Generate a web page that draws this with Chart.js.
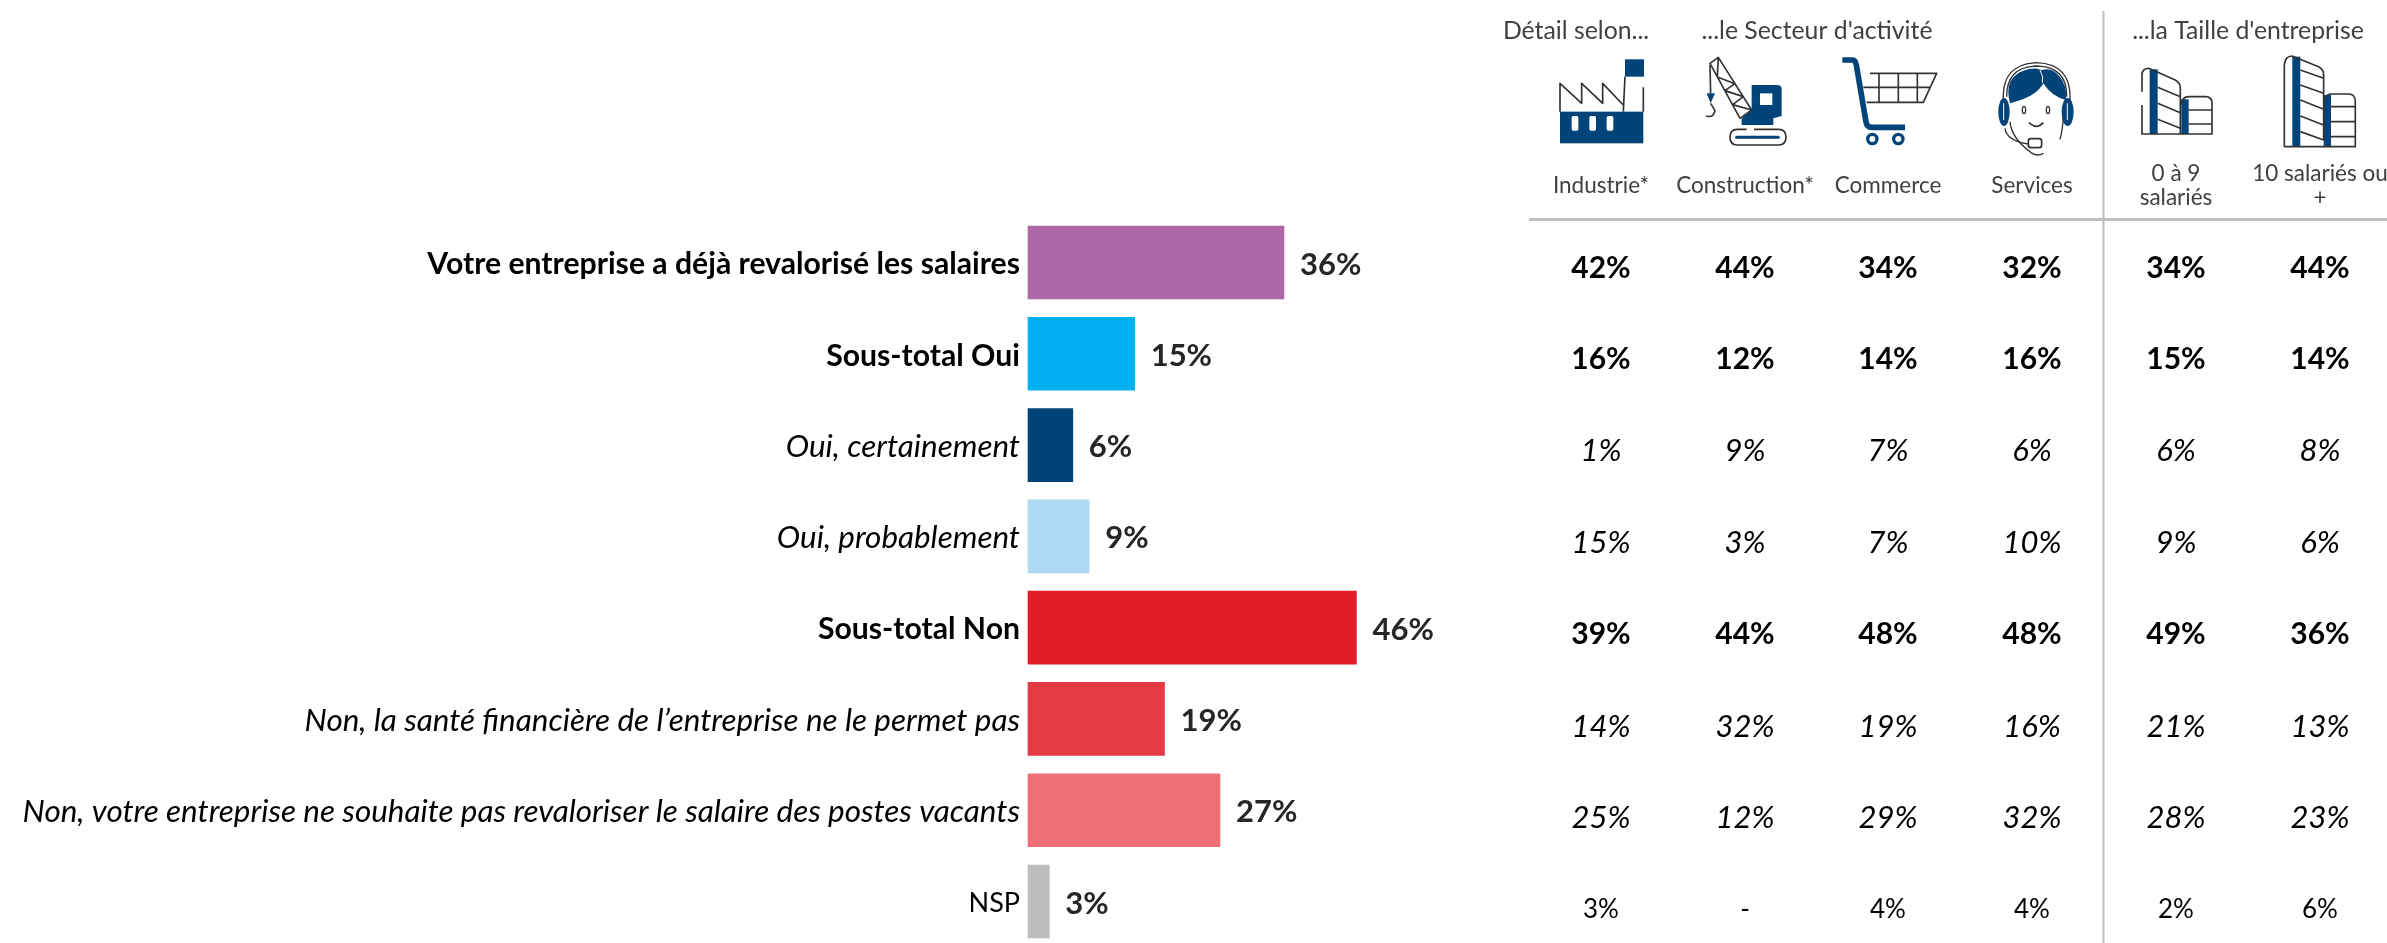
<!DOCTYPE html>
<html lang="fr"><head><meta charset="utf-8">
<style>html,body{margin:0;padding:0;background:#fff;overflow:hidden}
#wrap{position:relative;width:2387px;height:943px}
canvas{position:absolute;left:0;top:0}
svg{position:absolute;left:0;top:0;pointer-events:none}</style>
<script src="https://cdn.jsdelivr.net/npm/chart.js@4"></script>
</head><body>
<div id="wrap"><canvas id="c" width="2387" height="943"></canvas>
<svg width="2387" height="943" viewBox="0 0 2387 943" fill="none" stroke-linejoin="round">
<!-- factory + crane -->
<g transform="translate(1540,50) scale(.3333)">
<rect x="60" y="185" width="250" height="95" fill="#004479"/>
<g fill="#fff"><rect x="95" y="198" width="20" height="44" rx="5"/><rect x="148" y="198" width="20" height="44" rx="5"/><rect x="200" y="198" width="20" height="44" rx="5"/></g>
<rect x="255" y="28" width="57" height="52" fill="#004479"/>
<path d="M250 185L255 80M310 112V185M60 185V100L125 160V100L188 160V100L250 165" stroke="#333" stroke-width="5"/>
<path d="M635 105H712Q725 105 725 118V198L700 205V225H605V205L635 180Z" fill="#004479"/>
<rect x="660" y="130" width="37" height="35" fill="#fff"/>
<path d="M510 40L535 22L635 180L600 205ZM535 22L532 81L585 101L555 122L610 140L578 164L635 180" stroke="#333" stroke-width="5"/>
<path d="M510 45L512 130" stroke="#333" stroke-width="5"/>
<path d="M500 130H525L512 160Z" fill="#004479"/>
<path d="M512 160L525 182Q522 205 498 198" stroke="#333" stroke-width="5"/>
<path d="M620 238H592Q570 238 570 261Q570 285 592 285H716Q738 285 738 261Q738 238 716 238H642" stroke="#333" stroke-width="5"/>
<path d="M590 262H715" stroke="#004479" stroke-width="9" stroke-linecap="round"/>
</g>
<!-- cart + agent -->
<g transform="translate(1830,50) scale(.3333)">
<path d="M120 70H320L280 157H110M100 112H300M147 70V157M205 70V157M262 70V157" stroke="#333" stroke-width="5"/>
<path d="M37 30H68Q76 30 79 45L108 215Q111 232 125 232H225" stroke="#004479" stroke-width="17"/>
<circle cx="127" cy="267" r="14" stroke="#004479" stroke-width="10"/><circle cx="205" cy="267" r="14" stroke="#004479" stroke-width="10"/>
<path d="M540 160Q520 85 580 62Q615 50 635 60Q665 50 690 80Q712 110 708 150Q665 140 640 100Q620 140 545 158Z" fill="#004479"/>
<path d="M630 60Q642 80 637 98" stroke="#fff" stroke-width="3"/>
<path d="M520 150Q515 42 620 38Q725 42 720 150M530 140Q530 50 620 48Q712 50 710 140" stroke="#333" stroke-width="4"/>
<ellipse cx="522" cy="186" rx="17" ry="42" fill="#004479"/><ellipse cx="713" cy="186" rx="18" ry="42" fill="#004479"/>
<path d="M521 160V210M712 160V210" stroke="#fff" stroke-width="3"/>
<path d="M540 215Q545 265 600 305Q620 322 640 310M690 268Q698 240 700 200" stroke="#333" stroke-width="4"/>
<ellipse cx="582" cy="180" rx="5" ry="11" stroke="#333" stroke-width="4"/><ellipse cx="654" cy="180" rx="5" ry="11" stroke="#333" stroke-width="4"/>
<path d="M597 218Q620 240 640 218" stroke="#333" stroke-width="5"/>
<rect x="595" y="266" width="40" height="27" rx="8" stroke="#333" stroke-width="5"/>
<path d="M525 235Q530 272 595 282" stroke="#333" stroke-width="4"/>
</g>
<!-- buildings -->
<g transform="translate(2127,50) scale(.3333)">
<rect x="68" y="58" width="24" height="194" fill="#004479"/><rect x="163" y="148" width="22" height="104" fill="#004479"/>
<path d="M45 125V75Q45 55 65 55L145 90Q160 98 160 115V250M45 165V252H255V160Q255 140 235 140H185Q165 140 162 165M92 112L160 140M92 160L160 188M92 208L160 235M185 180H255M185 222H255" stroke="#333" stroke-width="5"/>
<rect x="496" y="20" width="24" height="270" fill="#004479"/><rect x="590" y="135" width="22" height="155" fill="#004479"/>
<path d="M472 290V45Q475 18 495 18L575 50Q590 58 590 75V270M472 290H685V155Q685 132 665 132H610Q592 135 590 155M520 60L590 85M520 105L590 130M520 150L590 178M520 198L590 225M520 245L590 270M612 170H685M612 215H685M612 260H685" stroke="#333" stroke-width="5"/>
</g>
</svg></div>
<script>
const categories = ["Votre entreprise a déjà revalorisé les salaires","Sous-total Oui","Oui, certainement","Oui, probablement","Sous-total Non","Non, la santé financière de l’entreprise ne le permet pas","Non, votre entreprise ne souhaite pas revaloriser le salaire des postes vacants","NSP"];
const values = [36,15,6.3,8.6,46.2,19.2,27,3];
const barColors = ["#AE67A6","#00B0F0","#004379","#AFDAF3","#E01E27","#E53946","#EF6F75","#BDBDBD"];
const rowStyles = ["bold","bold","italic","italic","bold","italic","italic","normal"];
const industrie = ["42%","16%","1%","15%","39%","14%","25%","3%"];
const construction = ["44%","12%","9%","3%","44%","32%","12%","-"];
const commerce = ["34%","14%","7%","7%","48%","19%","29%","4%"];
const services = ["32%","16%","6%","10%","48%","16%","32%","4%"];
const taille0a9 = ["34%","15%","6%","9%","49%","21%","28%","2%"];
const taille10plus = ["44%","14%","8%","6%","36%","13%","23%","6%"];
const tableColumns = [industrie,construction,commerce,services,taille0a9,taille10plus];
const columnX = [1601,1745,1888,2032,2176,2320];
const columnLabels = [["Industrie*"],["Construction*"],["Commerce"],["Services"],["0 à 9","salariés"],["10 salariés ou","+"]];
const groupHeaders = [["Détail selon...",1576],["...le Secteur d'activité",1817],["...la Taille d'entreprise",2248]];
const FONT = "Lato";

function fontFor(style,size){
  if(style==="bold") return "bold "+size+"px "+FONT;
  if(style==="italic") return "italic "+size+"px "+FONT;
  return size+"px "+FONT;
}
const tableSize = {bold:30,italic:31,normal:26};
const overlay = {
  id:"overlay",
  afterDraw(chart){
    const c = chart.ctx, bars = chart.getDatasetMeta(0).data;
    c.save();
    c.textBaseline = "middle";
    // value labels
    c.textAlign = "left"; c.fillStyle = "#262626"; c.font = "bold 31px "+FONT;
    bars.forEach((b,i)=>c.fillText(Math.round(values[i])+"%", b.x+16, b.y+2));
    // rules
    c.strokeStyle = "#C0C0C0";
    c.lineWidth = 3; c.beginPath(); c.moveTo(1529,219.5); c.lineTo(2387,219.5); c.stroke();
    c.lineWidth = 2; c.beginPath(); c.moveTo(2103.5,11); c.lineTo(2103.5,943); c.stroke();
    // headers
    c.textAlign = "center"; c.fillStyle = "#404040"; c.font = "24.8px "+FONT;
    groupHeaders.forEach(h=>c.fillText(h[0],h[1],31));
    c.font = "22.5px "+FONT;
    columnLabels.forEach((l,j)=>{
      if(l.length===1) c.fillText(l[0],columnX[j],186);
      else { c.fillText(l[0],columnX[j],174); c.fillText(l[1],columnX[j],198); }
    });
    // table
    c.fillStyle = "#000";
    tableColumns.forEach((col,j)=>col.forEach((t,i)=>{
      c.font = fontFor(rowStyles[i], tableSize[rowStyles[i]]);
      c.fillText(t,columnX[j],268+i*91.7);
    }));
    c.restore();
  }
};
const labelSize = {bold:30.2,italic:31.4,normal:27};
new Chart(document.getElementById("c"),{
  type:"bar",
  data:{labels:categories,datasets:[{data:values,backgroundColor:barColors,barThickness:73,borderWidth:0,clip:false}]},
  options:{
    indexAxis:"y",responsive:false,animation:false,
    layout:{padding:{top:262.5,bottom:41.5,right:648,left:0}},
    plugins:{legend:{display:false},tooltip:{enabled:false},title:{display:false}},
    scales:{
      x:{display:false,min:0,max:100},
      y:{offset:false,border:{display:false},grid:{display:false,offset:false},
        afterFit(s){s.width=1028;},
        ticks:{autoSkip:false,maxRotation:0,minRotation:0,padding:0,labelOffset:2,color:"#000",
          font(ctx){const st=rowStyles[ctx.index];return {family:FONT,size:labelSize[st],weight:st==="bold"?"bold":"normal",style:st==="italic"?"italic":"normal"};}}}
    }
  },
  plugins:[overlay]
});
</script></body></html>
